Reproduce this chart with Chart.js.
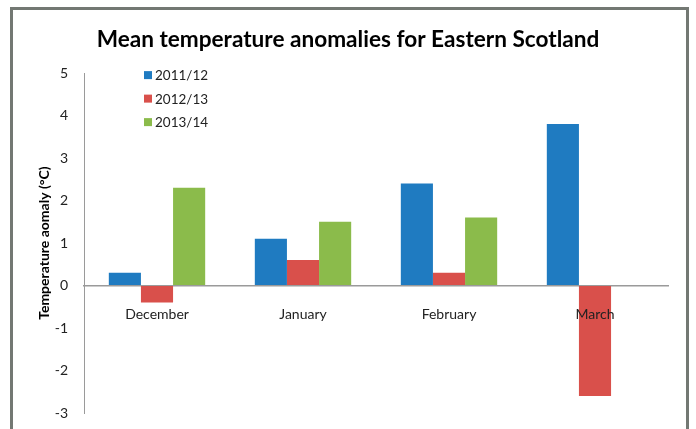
<!DOCTYPE html>
<html>
<head>
<meta charset="utf-8">
<script src="https://cdn.jsdelivr.net/npm/chart.js@4.4.0/dist/chart.umd.min.js"></script>
<style>
  body { margin: 0; background: #fff; }
  #wrap { width: 696px; height: 429px; position: relative; }
</style>
</head>
<body>
<div id="wrap"><canvas id="myChart" width="696" height="429"></canvas></div>
<script>
'use strict';

// chart data
let months = ['December', 'January', 'February', 'March'];
let seriesNames = ['2011/12', '2012/13', '2013/14'];
let winter2011 = [0.3, 1.1, 2.4, 3.8];
let winter2012 = [-0.4, 0.6, 0.3, -2.6];
let winter2013 = [2.3, 1.5, 1.6, null];
let seriesColors = ['#1f7bc1', '#d9504b', '#8bbb4b'];
let yTicks = [-3, -2, -1, 0, 1, 2, 3, 4, 5];

let fontName = 'Lato, "Noto Sans", sans-serif';

// outer frame like the excel chart border
let framePlugin = {
  id: 'frame',
  beforeDraw(chart) {
    let ctx = chart.ctx;
    ctx.save();
    ctx.fillStyle = '#ffffff';
    ctx.fillRect(0, 0, chart.width, chart.height);
    ctx.strokeStyle = '#737873';
    ctx.lineWidth = 3;
    ctx.beginPath();
    ctx.moveTo(11.5, 440);
    ctx.lineTo(11.5, 8.5);
    ctx.lineTo(687.5, 8.5);
    ctx.lineTo(687.5, 440);
    ctx.stroke();
    ctx.restore();
  }
};

// legend drawn inside the plot area, top left
let innerLegend = {
  id: 'innerLegend',
  afterDraw(chart) {
    let ctx = chart.ctx;
    let area = chart.chartArea;
    ctx.save();
    ctx.font = '13.5px ' + fontName;
    ctx.textBaseline = 'middle';
    chart.data.datasets.forEach((ds, i) => {
      let y = area.top + 2 + i * 23.5;
      ctx.fillStyle = ds.backgroundColor;
      ctx.fillRect(area.left + 60, y - 4, 8, 8);
      ctx.fillStyle = '#222';
      ctx.fillText(ds.label, area.left + 71, y + 1);
    });
    ctx.restore();
  }
};

let values = [winter2011, winter2012, winter2013];
let datasets = [];
for (let i = 0; i < seriesNames.length; i++) {
  datasets.push({
    label: seriesNames[i],
    data: values[i],
    backgroundColor: seriesColors[i],
    borderWidth: 0,
    categoryPercentage: 0.66,
    barPercentage: 1
  });
}

let chartObject = {
  type: 'bar',
  data: {
    labels: months,
    datasets: datasets
  },
  options: {
    responsive: false,
    animation: false,
    layout: {
      padding: { left: 28, right: 28, top: 10, bottom: 16 }
    },
    plugins: {
      legend: { display: false },
      tooltip: { enabled: false },
      title: {
        display: true,
        text: 'Mean temperature anomalies for Eastern Scotland',
        color: '#000',
        font: { family: fontName, size: 22.6, weight: 'bold' },
        padding: { top: 16, bottom: 20 }
      }
    },
    scales: {
      x: {
        position: { y: 0 },
        afterFit(scale) {
          scale.height = 0;
        },
        grid: { display: false, drawTicks: false },
        border: { display: true, color: '#9a9a9a', width: 1.5 },
        ticks: {
          z: 1,
          color: '#222',
          font: { family: fontName, size: 14 },
          padding: 21,
          maxRotation: 0
        }
      },
      y: {
        min: -3,
        max: 5,
        afterBuildTicks(scale) {
          scale.ticks = yTicks.map(v => ({ value: v }));
        },
        afterFit(scale) {
          scale.width = 56;
        },
        // invisible tick marks give the gap between labels and axis
        grid: {
          display: true,
          drawOnChartArea: false,
          drawTicks: true,
          tickLength: 16,
          color: 'rgba(0,0,0,0)'
        },
        border: { display: true, color: '#9a9a9a', width: 1 },
        ticks: {
          color: '#222',
          font: { family: fontName, size: 14 },
          padding: 0
        },
        title: {
          display: true,
          text: 'Temperature aomaly (°C)',
          color: '#000',
          font: { family: fontName, size: 14, weight: 'bold' },
          padding: { top: 8, bottom: 0 }
        }
      }
    }
  },
  plugins: [framePlugin, innerLegend]
};

let ctx = document.getElementById('myChart').getContext('2d');
let myChart = new Chart(ctx, chartObject);
</script>
</body>
</html>
